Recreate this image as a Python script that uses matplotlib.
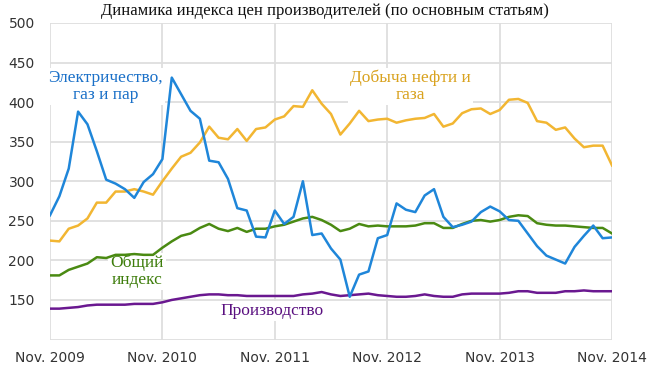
import matplotlib
matplotlib.use('Agg')
import matplotlib.pyplot as plt

# monthly values, Nov. 2009 .. Nov. 2014
electricity = [257, 281, 316, 388, 372, 338, 302, 297, 290, 279, 299, 309,
               328, 431, 410, 389, 379, 326, 324, 303, 266, 263, 230, 229,
               263, 246, 255, 300, 232, 234, 215, 201, 154, 182, 186, 228,
               232, 272, 264, 261, 282, 290, 255, 242, 245, 249, 261, 268,
               262, 251, 250, 234, 218, 206, 201, 196, 217, 231, 244, 228,
               229]
oil_gas = [225, 224, 240, 244, 253, 273, 273, 287, 287, 290, 287, 283,
           300, 316, 331, 336, 349, 369, 355, 353, 366, 351, 366, 368,
           378, 382, 395, 394, 415, 398, 385, 359, 373, 389, 376, 378,
           379, 374, 377, 379, 380, 385, 369, 373, 386, 391, 392, 385,
           390, 403, 404, 399, 376, 374, 365, 368, 354, 343, 345, 345,
           320]
general = [181, 181, 188, 192, 196, 204, 203, 207, 207, 208, 207, 207,
           216, 224, 231, 234, 241, 246, 240, 237, 241, 236, 240, 240,
           243, 245, 249, 253, 255, 251, 245, 237, 240, 246, 243, 244,
           243, 243, 243, 244, 247, 247, 241, 241, 246, 250, 251, 249,
           251, 255, 257, 256, 247, 245, 244, 244, 243, 242, 241, 241,
           234]
production = [139, 139, 140, 141, 143, 144, 144, 144, 144, 145, 145, 145,
              147, 150, 152, 154, 156, 157, 157, 156, 156, 155, 155, 155,
              155, 155, 155, 157, 158, 160, 157, 155, 156, 157, 158, 156,
              155, 154, 154, 155, 157, 155, 154, 154, 157, 158, 158, 158,
              158, 159, 161, 161, 159, 159, 159, 161, 161, 162, 161, 161,
              161]

x_labels = ['Nov. 2009', 'Nov. 2010', 'Nov. 2011', 'Nov. 2012', 'Nov. 2013', 'Nov. 2014']
y_ticks = [100, 150, 200, 250, 300, 350, 400, 450, 500]

fig = plt.figure(figsize=(6.5, 3.67), dpi=100)
ax = fig.add_axes([50 / 650, 1 - 339.5 / 367, 562 / 650, 316.5 / 367])

months = list(range(len(electricity)))
ax.plot(months, oil_gas, color='#f2b632', lw=1.8, zorder=3)
ax.plot(months, general, color='#4a8a12', lw=1.8, zorder=3)
ax.plot(months, production, color='#6a1890', lw=1.8, zorder=3)
ax.plot(months, electricity, color='#1f86d9', lw=1.8, zorder=4)

ax.set_xlim(0, 60)
ax.set_ylim(100, 500)
ax.set_xticks(range(0, 61, 12))
ax.set_xticklabels(x_labels)
ax.set_yticks(y_ticks)
ax.set_yticklabels([''] + [str(v) for v in y_ticks[1:]])
ax.tick_params(length=0, labelsize=10, labelcolor='#333333')
ax.tick_params(axis='y', pad=11)
ax.tick_params(axis='x', pad=8)
for lab in ax.get_xticklabels() + ax.get_yticklabels():
    lab.set_family('DejaVu Sans')
for s in ax.spines.values():
    s.set_visible(False)
ax.grid(True, color='#dedede', lw=1.3, zorder=0)
ax.set_axisbelow(True)

serif = 'Liberation Serif'
box = dict(facecolor='white', edgecolor='none', pad=1.5)
ax.text(5.9, 420, 'Электричество,\nгаз и пар', color='#1a70c8', family=serif,
        fontsize=12.5, ha='center', va='center', linespacing=1.05, bbox=box, zorder=2)
ax.text(38.5, 420, 'Добыча нефти и\nгаза', color='#d9a21e', family=serif,
        fontsize=12.5, ha='center', va='center', linespacing=1.05, bbox=box, zorder=2)
ax.text(9.3, 186, 'Общий\nиндекс', color='#3e7d0c', family=serif,
        fontsize=12.5, ha='center', va='center', linespacing=1.05, bbox=box, zorder=2)
ax.text(23.7, 136, 'Производство', color='#5a1080', family=serif,
        fontsize=12.5, ha='center', va='center', bbox=box, zorder=2)

fig.text(0.5, 1 - 11 / 367, 'Динамика индекса цен производителей (по основным статьям)',
         family=serif, fontsize=12, ha='center', va='center', color='#111111')

fig.savefig('out.png', dpi=100)
